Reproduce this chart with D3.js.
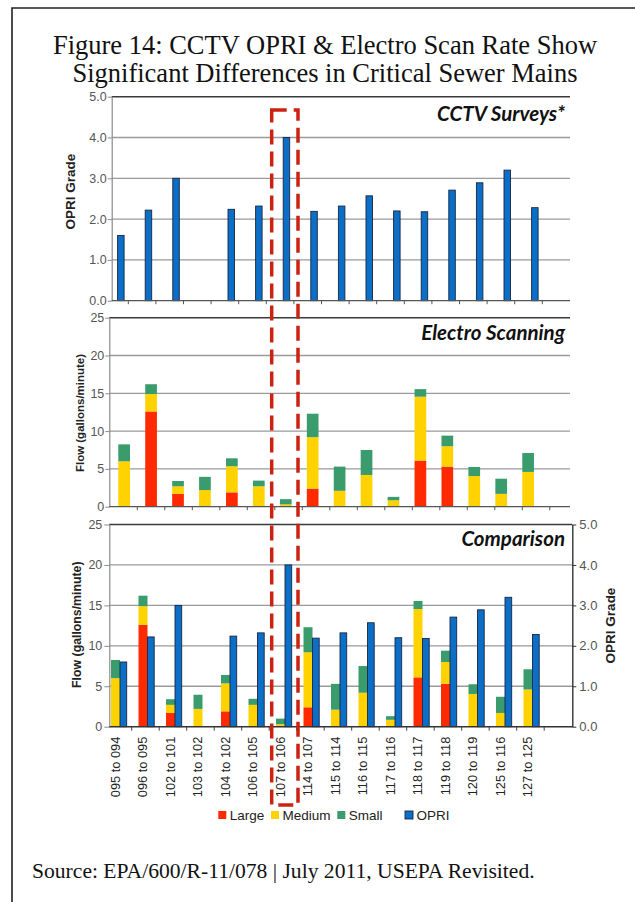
<!DOCTYPE html>
<html>
<head>
<meta charset="utf-8">
<script src="https://cdn.jsdelivr.net/npm/d3@7"></script>
<style>
  html, body { margin: 0; padding: 0; background: #fff; }
  svg { display: block; }
</style>
</head>
<body>
<svg id="chart" width="635" height="902"></svg>
<script>
// ---------- DATA ----------
const categories = ["095 to 094", "096 to 095", "102 to 101", "103 to 102", "104 to 102", "106 to 105",
  "107 to 106", "114 to 107", "115 to 114", "116 to 115", "117 to 116", "118 to 117",
  "119 to 118", "120 to 119", "125 to 116", "127 to 125"];
const opri   = [1.6, 2.22, 3.0, null, 2.24, 2.32, 4.0, 2.19, 2.32, 2.57, 2.2, 2.18, 2.71, 2.89, 3.2, 2.28];
const large  = [0, 12.6, 1.7, 0, 1.9, 0, 0, 2.4, 0, 0, 0, 6.1, 5.3, 0, 0, 0];
const medium = [6.0, 2.3, 1.0, 2.2, 3.45, 2.7, 0.3, 6.8, 2.1, 4.2, 0.85, 8.45, 2.7, 4.05, 1.7, 4.6];
const small  = [2.25, 1.3, 0.7, 1.75, 1.05, 0.75, 0.7, 3.1, 3.2, 3.3, 0.45, 1.0, 1.4, 1.2, 2.0, 2.5];
const gradeTicks = [0, 1, 2, 3, 4, 5];
const flowTicks = [0, 5, 10, 15, 20, 25];
const seriesKeys = ["large", "medium", "small"];
const legendLabels = ["Large", "Medium", "Small", "OPRI"];
const titleLines = ["Figure 14: CCTV OPRI & Electro Scan Rate Show", "Significant Differences in Critical Sewer Mains"];
const panelTitles = ["CCTV Surveys*", "Electro Scanning", "Comparison"];
const sourceText = "Source: EPA/600/R-11/078 | July 2011, USEPA Revisited.";

// ---------- STYLE ----------
const colors = { large: "#ff2a00", medium: "#ffd200", small: "#3a9c6c", opri: "#0b6fc8" };
const SANS = "'Liberation Sans', Arial, sans-serif";
const SERIF = "'Liberation Serif', 'Times New Roman', serif";
const CAL = "Lato, 'Open Sans', sans-serif";

const svg = d3.select("#chart");
svg.append("rect").attr("width", 635).attr("height", 902).attr("fill", "#fff");

// outer frame (top and left visible)
svg.append("path").attr("d", "M12,902V8H635").attr("fill", "none").attr("stroke", "#222").attr("stroke-width", 1.6);

// title
svg.append("g").selectAll("text").data(titleLines).join("text")
  .attr("x", 325).attr("y", (d, i) => 54 + i * 28)
  .attr("text-anchor", "middle").attr("font-family", SERIF).attr("font-size", 26.5).attr("fill", "#111")
  .text(d => d);

const rows = categories.map((c, i) => ({ cat: c, opri: opri[i], large: large[i], medium: medium[i], small: small[i] }));
const stacked = d3.stack().keys(seriesKeys)(rows);

function gridAndAxis(g, y, ticks, x0, x1, fmt, tickLen) {
  g.append("g").selectAll("line").data(ticks.slice(1, -1)).join("line")
    .attr("x1", x0).attr("x2", x1).attr("y1", d => y(d)).attr("y2", d => y(d))
    .attr("stroke", "#9a9a9a").attr("stroke-width", 1.3);
  g.append("line").attr("x1", x0).attr("x2", x1)
    .attr("y1", y(ticks[ticks.length - 1])).attr("y2", y(ticks[ticks.length - 1]))
    .attr("stroke", "#3a3a3a").attr("stroke-width", 1.6);
  const ax = g.append("g").attr("transform", `translate(${x0},0)`)
    .call(d3.axisLeft(y).tickValues(ticks).tickFormat(fmt).tickSize(tickLen).tickSizeOuter(0));
  ax.select(".domain").attr("stroke", "#8a8a8a").attr("stroke-width", 1.2);
  ax.selectAll(".tick line").attr("stroke", "#8a8a8a");
  ax.selectAll(".tick text").attr("font-family", SANS).attr("fill", "#555");
  return ax;
}

// ================= TOP PANEL =================
const topG = svg.append("g");
const yTop = d3.scaleLinear().domain([0, 5]).range([300.7, 96.7]);
const xTop = d3.scaleBand().domain(categories).range([100.7, 542.3]);
const axTop = gridAndAxis(topG, yTop, gradeTicks, 111.7, 570, d3.format(".1f"), 4);
axTop.selectAll(".tick text").attr("font-size", 12.5).attr("x", -5);
topG.append("g").selectAll("line").data(categories).join("line")
  .attr("x1", d => xTop(d) + xTop.step()).attr("x2", d => xTop(d) + xTop.step())
  .attr("y1", yTop(0)).attr("y2", yTop(0) + 3.5).attr("stroke", "#555");
topG.append("g").selectAll("rect").data(rows.filter(r => r.opri != null)).join("rect")
  .attr("x", d => xTop(d.cat) + 16.9).attr("width", 6.5)
  .attr("y", d => yTop(d.opri)).attr("height", d => yTop(0) - yTop(d.opri))
  .attr("fill", colors.opri).attr("stroke", "#1b2540").attr("stroke-width", 0.9);
topG.append("line").attr("x1", 111.7).attr("x2", 570).attr("y1", yTop(0)).attr("y2", yTop(0))
  .attr("stroke", "#555").attr("stroke-width", 1.3);
topG.append("text").attr("transform", "translate(75,191.7) rotate(-90)")
  .attr("text-anchor", "middle").attr("font-family", SANS).attr("font-weight", "bold")
  .attr("font-size", 13.5).attr("fill", "#222").text("OPRI Grade");
topG.append("text").attr("x", 565).attr("y", 121).attr("text-anchor", "end")
  .attr("font-family", CAL).attr("font-weight", "bold").attr("font-style", "italic")
  .attr("font-size", 20.5).attr("fill", "#111").text(panelTitles[0]);

// ================= MIDDLE PANEL =================
const midG = svg.append("g");
const yMid = d3.scaleLinear().domain([0, 25]).range([506.7, 317.7]);
const xMidTicks = d3.scaleBand().domain(categories).range([109.8, 549.8]);
const xMidBars = d3.scaleBand().domain(categories).range([110.7, 541.6]);
const axMid = gridAndAxis(midG, yMid, flowTicks, 109.3, 570, d3.format("d"), 4);
axMid.selectAll(".tick text").attr("font-size", 12.5).attr("x", -5);
midG.append("g").selectAll("line").data(categories).join("line")
  .attr("x1", d => xMidTicks(d) + xMidTicks.step()).attr("x2", d => xMidTicks(d) + xMidTicks.step())
  .attr("y1", yMid(0)).attr("y2", yMid(0) + 3.5).attr("stroke", "#555");
midG.append("g").selectAll("g").data(stacked).join("g").attr("fill", d => colors[d.key])
  .selectAll("rect").data(d => d.filter(p => p[1] - p[0] > 0)).join("rect")
  .attr("x", d => xMidBars(d.data.cat) + 7.6).attr("width", 11.7)
  .attr("y", d => yMid(d[1])).attr("height", d => yMid(d[0]) - yMid(d[1]));
midG.append("line").attr("x1", 109.3).attr("x2", 570).attr("y1", yMid(0)).attr("y2", yMid(0))
  .attr("stroke", "#555").attr("stroke-width", 1.3);
midG.append("text").attr("transform", "translate(84,413) rotate(-90)")
  .attr("text-anchor", "middle").attr("font-family", SANS).attr("font-weight", "bold")
  .attr("font-size", 11.5).attr("fill", "#222").text("Flow (gallons/minute)");
midG.append("text").attr("x", 565).attr("y", 340).attr("text-anchor", "end")
  .attr("font-family", CAL).attr("font-weight", "bold").attr("font-style", "italic")
  .attr("font-size", 20.5).attr("fill", "#111").text(panelTitles[1]);

// ================= BOTTOM PANEL =================
const botG = svg.append("g");
const yBot = d3.scaleLinear().domain([0, 25]).range([726.7, 524.5]);
const yBot2 = d3.scaleLinear().domain([0, 5]).range([726.7, 524.5]);
const xBot = d3.scaleBand().domain(categories).range([104.2, 544.2]);
const axBot = gridAndAxis(botG, yBot, flowTicks, 109.3, 572.3, d3.format("d"), 5);
axBot.selectAll(".tick text").attr("font-size", 12.5).attr("x", -7);
botG.append("g").selectAll("line").data(categories).join("line")
  .attr("x1", d => xBot(d) + xBot.step()).attr("x2", d => xBot(d) + xBot.step())
  .attr("y1", yBot(0)).attr("y2", yBot(0) + 4).attr("stroke", "#444");
botG.append("g").selectAll("g").data(stacked).join("g").attr("fill", d => colors[d.key])
  .selectAll("rect").data(d => d.filter(p => p[1] - p[0] > 0)).join("rect")
  .attr("x", d => xBot(d.data.cat) + 6.8).attr("width", 9)
  .attr("y", d => yBot(d[1])).attr("height", d => yBot(d[0]) - yBot(d[1]));
botG.append("g").selectAll("rect").data(rows.filter(r => r.opri != null)).join("rect")
  .attr("x", d => xBot(d.cat) + 15.8).attr("width", 6.7)
  .attr("y", d => yBot2(d.opri)).attr("height", d => yBot2(0) - yBot2(d.opri))
  .attr("fill", colors.opri).attr("stroke", "#1b2540").attr("stroke-width", 0.9);
botG.append("line").attr("x1", 109.3).attr("x2", 572.3).attr("y1", yBot(0)).attr("y2", yBot(0))
  .attr("stroke", "#333").attr("stroke-width", 1.4);
const axR = botG.append("g").attr("transform", "translate(572.3,0)")
  .call(d3.axisRight(yBot2).tickValues(gradeTicks).tickFormat(d3.format(".1f")).tickSize(4).tickSizeOuter(0));
axR.select(".domain").attr("stroke", "#333").attr("stroke-width", 1.4);
axR.selectAll(".tick line").attr("stroke", "#333");
axR.selectAll(".tick text").attr("font-family", SANS).attr("font-size", 13).attr("fill", "#555").attr("x", 7);
botG.append("text").attr("transform", "translate(615,625.5) rotate(-90)")
  .attr("text-anchor", "middle").attr("font-family", SANS).attr("font-weight", "bold")
  .attr("font-size", 13.5).attr("fill", "#222").text("OPRI Grade");
botG.append("text").attr("transform", "translate(81,624.7) rotate(-90)")
  .attr("text-anchor", "middle").attr("font-family", SANS).attr("font-weight", "bold")
  .attr("font-size", 12.3).attr("fill", "#222").text("Flow (gallons/minute)");
botG.append("text").attr("x", 565).attr("y", 546).attr("text-anchor", "end")
  .attr("font-family", CAL).attr("font-weight", "bold").attr("font-style", "italic")
  .attr("font-size", 20.5).attr("fill", "#111").text(panelTitles[2]);
botG.append("g").selectAll("text").data(categories).join("text")
  .attr("transform", d => `translate(${xBot(d) + 11},736.7) rotate(-90)`)
  .attr("text-anchor", "end").attr("dominant-baseline", "central")
  .attr("font-family", SANS).attr("font-size", 12.8).attr("fill", "#222").text(d => d);

// legend
const legendX = [218.3, 271, 337.3, 405];
const legendColors = [colors.large, colors.medium, colors.small, colors.opri];
const lg = svg.append("g").selectAll("g").data(legendLabels).join("g")
  .attr("transform", (d, i) => `translate(${legendX[i]},815)`);
lg.append("rect").attr("x", 0).attr("y", -4).attr("width", 8).attr("height", 8)
  .attr("fill", (d, i) => legendColors[i])
  .attr("stroke", (d, i) => i === 3 ? "#1b2540" : "none").attr("stroke-width", 0.9);
lg.append("text").attr("x", 11.5).attr("y", 0).attr("dominant-baseline", "central")
  .attr("font-family", SANS).attr("font-size", 13.5).attr("fill", "#222").text(d => d);

// highlight dashed box
svg.append("rect").attr("x", 271.7).attr("y", 110).attr("width", 26.3).attr("height", 695)
  .attr("fill", "none").attr("stroke", "#cc2210").attr("stroke-width", 3.5)
  .attr("stroke-dasharray", "15,7");

// source
svg.append("text").attr("x", 32).attr("y", 878).attr("font-family", SERIF)
  .attr("font-size", 21.6).attr("fill", "#111").text(sourceText);
</script>
</body>
</html>
